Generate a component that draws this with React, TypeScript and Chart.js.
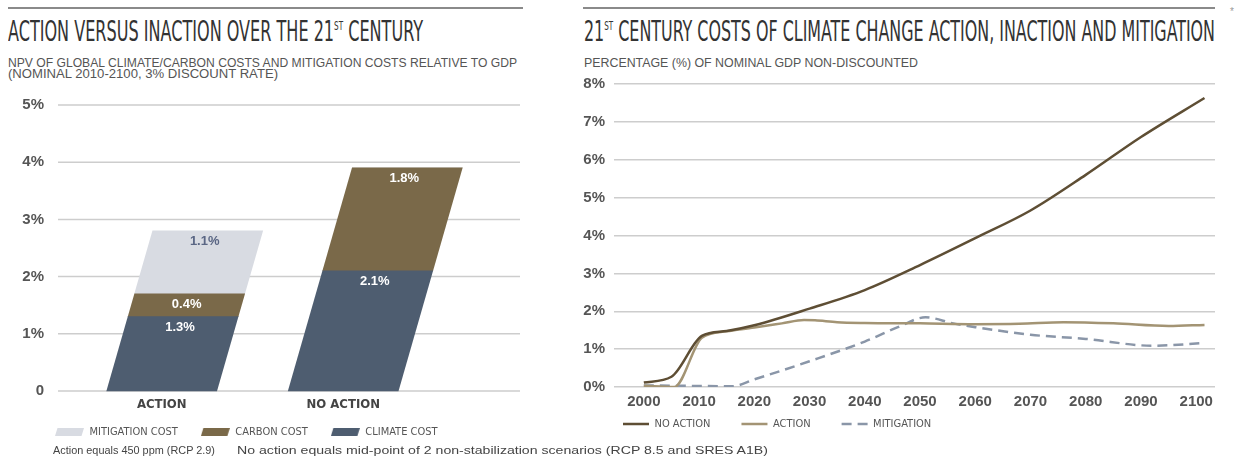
import React, { useEffect, useLayoutEffect, useRef } from 'react';
import { Chart, registerables } from 'chart.js';

Chart.register(...registerables);

const NARROW = "'Liberation Sans Narrow', 'DejaVu Sans Condensed', sans-serif";
const SANS = "'Liberation Sans', Arial, sans-serif";

// ---------- left chart data ----------
const BAR_CATEGORIES = ['ACTION', 'NO ACTION'];
const CLIMATE_COST = [1.3, 2.1];
const CARBON_COST = [0.4, 1.8];
const MITIGATION_COST = [1.1, 0];
const BAR_SERIES_NAMES = ['CLIMATE COST', 'CARBON COST', 'MITIGATION COST'];
const BAR_COLORS = ['#4e5d70', '#7a6949', '#d8dbe2'];
const BAR_LABEL_COLORS = ['#ffffff', '#ffffff', '#5a6684'];

// ---------- right chart data ----------
const NO_ACTION_YEARS = [2000, 2005, 2010.5, 2015, 2020, 2030, 2040, 2050, 2060, 2070, 2080, 2090, 2101.5];
const NO_ACTION_VALUES = [0.12, 0.27, 1.35, 1.48, 1.63, 2.07, 2.56, 3.22, 3.93, 4.66, 5.6, 6.6, 7.63];
const ACTION_YEARS = [2000, 2005.5, 2010.5, 2015, 2020, 2025, 2029, 2031, 2035, 2040, 2050, 2060, 2068, 2076, 2085, 2095, 2101.5];
const ACTION_VALUES = [0.03, 0.0, 1.3, 1.47, 1.57, 1.68, 1.77, 1.76, 1.71, 1.69, 1.68, 1.66, 1.67, 1.71, 1.68, 1.61, 1.64];
const MITIGATION_YEARS = [2000, 2008, 2016, 2020, 2030, 2040, 2046, 2051, 2056, 2060, 2070, 2080, 2092, 2101.5];
const MITIGATION_VALUES = [0.04, 0.03, 0.02, 0.2, 0.68, 1.2, 1.58, 1.84, 1.68, 1.58, 1.38, 1.27, 1.09, 1.16];
const LINE_X_TICKS = [2000, 2010, 2020, 2030, 2040, 2050, 2060, 2070, 2080, 2090, 2100];
const LINE_SERIES_NAMES = ['NO ACTION', 'ACTION', 'MITIGATION'];
const LINE_COLORS = ['#5e4e34', '#a39474', '#8a96a8'];

const SKEW = 0.287;

function makeSwatch(color: string) {
  const c = document.createElement('canvas');
  c.width = 29;
  c.height = 8;
  const g = c.getContext('2d')!;
  g.fillStyle = color;
  g.beginPath();
  g.moveTo(2.5, 0);
  g.lineTo(29, 0);
  g.lineTo(26.5, 8);
  g.lineTo(0, 8);
  g.closePath();
  g.fill();
  return c;
}

// moves the legend row (canvas coordinates) so its first item starts at x and its row centre sits at cy
function placeLegend(x: number, cy: number, fontSize: number) {
  return {
    id: 'placeLegend',
    afterLayout(chart: any) {
      const lg = chart.legend;
      if (!lg) return;
      const pad = lg.options.labels.padding;
      const w = lg.width;
      const h = lg.height;
      lg.left = x - pad;
      lg.right = lg.left + w;
      lg.top = cy - pad - fontSize / 2;
      lg.bottom = lg.top + h;
    },
  };
}

function FitText(props: { left: number; top: number; width: number; size: number; family: string; color: string; weight?: any; children: any }) {
  const ref = useRef<HTMLSpanElement>(null);
  useLayoutEffect(() => {
    const el = ref.current;
    if (!el) return;
    el.style.transform = 'none';
    const w = el.getBoundingClientRect().width;
    if (w > 0) el.style.transform = `scaleX(${props.width / w})`;
  });
  return (
    <span
      ref={ref}
      style={{
        position: 'absolute',
        left: props.left,
        top: props.top,
        fontSize: props.size,
        lineHeight: 1,
        fontFamily: props.family,
        color: props.color,
        fontWeight: props.weight || 'normal',
        whiteSpace: 'nowrap',
        transformOrigin: '0 0',
        display: 'inline-block',
      }}
    >
      {props.children}
    </span>
  );
}

const Sup = () => <span style={{ fontSize: '0.45em', verticalAlign: '0.89em' }}>ST</span>;

function BarChart() {
  const ref = useRef<HTMLCanvasElement>(null);
  useEffect(() => {
    const series = [CLIMATE_COST, CARBON_COST, MITIGATION_COST];
    const swatches = BAR_COLORS.map(makeSwatch);
    const skewPlugin = {
      id: 'skewBars',
      beforeDatasetsDraw(chart: any) {
        const { ctx } = chart;
        const y = chart.scales.y;
        ctx.save();
        ctx.strokeStyle = '#cdcdcd';
        ctx.lineWidth = 1.5;
        y.ticks.forEach((t: any) => {
          const py = y.getPixelForValue(t.value);
          ctx.beginPath();
          ctx.moveTo(58, py);
          ctx.lineTo(520, py);
          ctx.stroke();
        });
        ctx.restore();
        const base = y.getPixelForValue(0);
        ctx.save();
        ctx.transform(1, 0, -SKEW, 1, SKEW * base, 0);
      },
      afterDatasetsDraw(chart: any) {
        const { ctx } = chart;
        ctx.restore();
        const y = chart.scales.y;
        const base = y.getPixelForValue(0);
        ctx.save();
        ctx.font = `bold 13px ${SANS}`;
        ctx.textAlign = 'center';
        ctx.textBaseline = 'middle';
        chart.data.datasets.forEach((ds: any, di: number) => {
          const meta = chart.getDatasetMeta(di);
          meta.data.forEach((el: any, j: number) => {
            const v = ds.data[j];
            if (!v) return;
            const top = Math.min(el.y, el.base);
            const bottom = Math.max(el.y, el.base);
            const ly = Math.min(top + 10.5, (top + bottom) / 2);
            const lx = el.x + SKEW * (base - ly);
            ctx.fillStyle = BAR_LABEL_COLORS[di];
            ctx.fillText(v.toFixed(1) + '%', lx, ly);
          });
        });
        ctx.restore();
      },
    };
    const chart = new Chart(ref.current!, {
      type: 'bar',
      data: {
        labels: BAR_CATEGORIES,
        datasets: series.map((d, i) => ({
          label: BAR_SERIES_NAMES[i],
          data: d,
          backgroundColor: BAR_COLORS[i],
          borderWidth: 0,
          barThickness: 110,
          clip: false as any,
        })),
      },
      options: {
        animation: false,
        responsive: false,
        layout: { padding: { left: 0, right: 106, top: 0, bottom: 0 } },
        plugins: {
          tooltip: { enabled: false },
          legend: {
            position: 'bottom',
            align: 'start',
            reverse: true,
            labels: {
              usePointStyle: true,
              pointStyleWidth: 29,
              padding: 23,
              color: '#555',
              font: { family: NARROW, size: 11 },
              generateLabels: (c: any) =>
                c.data.datasets.map((ds: any, i: number) => ({
                  text: ds.label,
                  datasetIndex: i,
                  fillStyle: ds.backgroundColor,
                  strokeStyle: ds.backgroundColor,
                  lineWidth: 0,
                  pointStyle: swatches[i],
                  hidden: false,
                  fontColor: '#555',
                })),
            },
          },
        },
        scales: {
          x: {
            stacked: true,
            grid: { display: false, drawTicks: false },
            border: { display: false },
            ticks: { padding: 6, color: '#444', font: { family: NARROW, size: 13, weight: 'bold' } },
            afterFit: (s: any) => {
              s.height = 30;
            },
          },
          y: {
            stacked: true,
            min: 0,
            max: 5,
            grid: { display: false, drawTicks: false },
            border: { display: false },
            ticks: {
              stepSize: 1,
              padding: 27,
              color: '#555',
              font: { family: SANS, size: 15, weight: 'bold' },
              callback: (v: any) => (v === 0 ? '0' : v + '%'),
            },
            afterFit: (s: any) => {
              s.width = 71;
            },
          },
        },
      },
      plugins: [skewPlugin, placeLegend(55, 363, 11)],
    } as any);
    return () => chart.destroy();
  }, []);
  return <canvas ref={ref} width={540} height={396} style={{ position: 'absolute', left: 0, top: 69, width: 540, height: 396 }} />;
}

function LineChart() {
  const ref = useRef<HTMLCanvasElement>(null);
  useEffect(() => {
    const toPts = (xs: number[], ys: number[]) => xs.map((x, i) => ({ x, y: ys[i] }));
    const sets = [
      toPts(NO_ACTION_YEARS, NO_ACTION_VALUES),
      toPts(ACTION_YEARS, ACTION_VALUES),
      toPts(MITIGATION_YEARS, MITIGATION_VALUES),
    ];
    const chart = new Chart(ref.current!, {
      type: 'line',
      data: {
        datasets: sets.map((d, i) => ({
          label: LINE_SERIES_NAMES[i],
          data: d,
          borderColor: LINE_COLORS[i],
          backgroundColor: LINE_COLORS[i],
          borderWidth: 2.5,
          borderDash: i === 2 ? [10, 6] : [],
          pointRadius: 0,
          tension: 0.4,
          cubicInterpolationMode: 'monotone',
          fill: false,
        })),
      },
      options: {
        animation: false,
        responsive: false,
        layout: { padding: { left: 0, right: 23, top: 0, bottom: 0 } },
        plugins: {
          tooltip: { enabled: false },
          legend: {
            position: 'bottom',
            align: 'start',
            labels: {
              usePointStyle: true,
              pointStyleWidth: 26,
              padding: 31,
              color: '#555',
              font: { family: NARROW, size: 11 },
              generateLabels: (c: any) =>
                c.data.datasets.map((ds: any, i: number) => ({
                  text: ds.label,
                  datasetIndex: i,
                  fillStyle: ds.borderColor,
                  strokeStyle: ds.borderColor,
                  lineWidth: 2.5,
                  lineDash: ds.borderDash,
                  pointStyle: 'line',
                  hidden: false,
                  fontColor: '#555',
                })),
            },
          },
        },
        scales: {
          x: {
            type: 'linear',
            min: 1994.6,
            max: 2103.4,
            grid: { display: false, drawTicks: false },
            border: { display: false },
            afterBuildTicks: (s: any) => {
              s.ticks = LINE_X_TICKS.map((v) => ({ value: v }));
            },
            ticks: { padding: 6, color: '#555', font: { family: SANS, size: 15, weight: 'bold' }, callback: (v: any) => String(v) },
            afterFit: (s: any) => {
              s.height = 30;
            },
          },
          y: {
            min: 0,
            max: 8,
            grid: { color: '#cdcdcd', lineWidth: 1.5, drawTicks: false },
            border: { display: false },
            ticks: { stepSize: 1, padding: 9, color: '#555', font: { family: SANS, size: 15, weight: 'bold' }, callback: (v: any) => v + '%' },
            afterFit: (s: any) => {
              s.width = 54;
            },
          },
        },
      },
      plugins: [placeLegend(63, 358, 11)],
    } as any);
    return () => chart.destroy();
  }, []);
  return <canvas ref={ref} width={678} height={403} style={{ position: 'absolute', left: 560, top: 66, width: 678, height: 403 }} />;
}

export default function App() {
  return (
    <div style={{ position: 'absolute', left: 0, top: 0, width: 1238, height: 459, background: '#fff', overflow: 'hidden' }}>
      <div style={{ position: 'absolute', left: 8, top: 7, width: 515, height: 2, background: '#8a8a8a' }} />
      <div style={{ position: 'absolute', left: 583, top: 7, width: 632, height: 2, background: '#8a8a8a' }} />
      <span style={{ position: 'absolute', left: 1230, top: 6, fontSize: 10, color: '#999', fontFamily: SANS }}>*</span>
      <FitText left={8} top={18} width={415} size={28} family={NARROW} color="#333">
        ACTION VERSUS INACTION OVER THE 21<Sup /> CENTURY
      </FitText>
      <FitText left={584} top={18} width={631} size={28} family={NARROW} color="#333">
        21<Sup /> CENTURY COSTS OF CLIMATE CHANGE ACTION, INACTION AND MITIGATION
      </FitText>
      <FitText left={8} top={57} width={509} size={12} family={SANS} color="#555">
        NPV OF GLOBAL CLIMATE/CARBON COSTS AND MITIGATION COSTS RELATIVE TO GDP
      </FitText>
      <FitText left={8} top={68} width={270} size={12} family={SANS} color="#555">
        (NOMINAL 2010-2100, 3% DISCOUNT RATE)
      </FitText>
      <FitText left={584} top={57} width={334} size={12} family={SANS} color="#555">
        PERCENTAGE (%) OF NOMINAL GDP NON-DISCOUNTED
      </FitText>
      <BarChart />
      <LineChart />
      <FitText left={53} top={445} width={162} size={11.5} family={SANS} color="#444">
        Action equals 450 ppm (RCP 2.9)
      </FitText>
      <FitText left={237} top={445} width={531} size={11.5} family={SANS} color="#444">
        No action equals mid-point of 2 non-stabilization scenarios (RCP 8.5 and SRES A1B)
      </FitText>
    </div>
  );
}
